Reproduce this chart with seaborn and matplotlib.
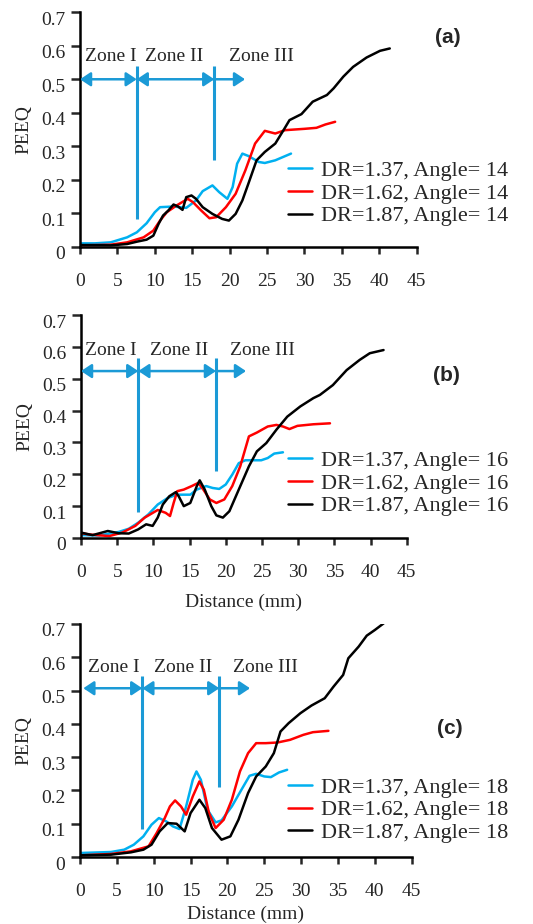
import matplotlib
matplotlib.use('Agg')
import matplotlib.pyplot as plt
import matplotlib.transforms as mtransforms
from matplotlib.patches import Rectangle
import pandas as pd
import seaborn as sns

# ---- data (distance mm, PEEQ) ----
# panel (a), angle 14
a137_x = [0, 2.0, 4.1, 6.3, 7.6, 8.9, 10.0, 10.7, 12.5, 14.2, 15.5, 16.4, 17.7, 18.6, 19.7, 20.4, 21.0, 21.7, 22.5, 23.9, 24.7, 26.1, 28.2]
a137_y = [0.010, 0.010, 0.013, 0.028, 0.043, 0.070, 0.103, 0.118, 0.120, 0.116, 0.138, 0.166, 0.183, 0.163, 0.143, 0.178, 0.248, 0.278, 0.271, 0.253, 0.250, 0.258, 0.278]
a162_x = [0, 4.1, 6.3, 8.5, 9.8, 10.7, 11.6, 12.9, 14.4, 15.1, 16.2, 17.3, 18.2, 19.5, 20.8, 22.1, 23.4, 24.7, 26.1, 27.4, 30.0, 31.6, 32.8, 34.1]
a162_y = [0.004, 0.006, 0.013, 0.028, 0.048, 0.078, 0.103, 0.123, 0.143, 0.133, 0.108, 0.085, 0.088, 0.118, 0.158, 0.228, 0.308, 0.346, 0.338, 0.348, 0.352, 0.355, 0.365, 0.373]
a187_x = [0, 4.1, 6.3, 7.6, 8.9, 9.8, 10.5, 11.1, 11.8, 12.5, 13.1, 13.7, 14.2, 14.9, 15.5, 16.4, 17.7, 19.0, 19.9, 20.8, 21.7, 22.5, 23.6, 24.7, 26.1, 27.2, 28.0, 29.6, 31.1, 33.0, 33.9, 35.2, 36.5, 38.3, 40.1, 41.4]
a187_y = [0.005, 0.004, 0.008, 0.015, 0.021, 0.033, 0.068, 0.093, 0.108, 0.126, 0.120, 0.110, 0.148, 0.153, 0.143, 0.118, 0.098, 0.083, 0.078, 0.098, 0.138, 0.188, 0.258, 0.283, 0.308, 0.348, 0.378, 0.396, 0.433, 0.453, 0.473, 0.508, 0.537, 0.565, 0.585, 0.592]

# panel (b), angle 16
b137_x = [0, 2.5, 5.2, 6.6, 7.9, 9.3, 10.6, 12.0, 13.3, 15.1, 16.0, 17.3, 18.2, 19.1, 20.0, 20.9, 21.8, 22.7, 24.9, 25.8, 26.7, 27.9]
b137_y = [0.009, 0.008, 0.019, 0.029, 0.048, 0.074, 0.105, 0.126, 0.136, 0.136, 0.152, 0.163, 0.157, 0.154, 0.168, 0.199, 0.235, 0.244, 0.244, 0.251, 0.265, 0.269]
b162_x = [0, 1.2, 3.9, 5.7, 7.5, 8.8, 10.6, 11.7, 12.3, 12.8, 13.3, 14.2, 15.3, 16.2, 16.9, 17.8, 18.7, 19.8, 20.9, 22.0, 23.2, 24.3, 25.8, 27.0, 27.9, 28.8, 29.9, 32.1, 34.4]
b162_y = [0.015, 0.011, 0.006, 0.017, 0.038, 0.064, 0.088, 0.079, 0.069, 0.110, 0.147, 0.152, 0.163, 0.173, 0.152, 0.121, 0.110, 0.121, 0.163, 0.225, 0.319, 0.331, 0.350, 0.355, 0.350, 0.342, 0.352, 0.357, 0.360]
b187_x = [0, 1.6, 3.7, 5.2, 6.6, 7.9, 9.0, 9.9, 10.6, 11.3, 12.2, 13.1, 13.5, 14.2, 15.1, 16.0, 16.4, 17.1, 18.0, 18.7, 19.6, 20.5, 21.8, 23.2, 24.3, 25.6, 27.0, 28.5, 30.3, 32.1, 33.0, 34.8, 36.7, 38.5, 39.9, 41.8]
b187_y = [0.017, 0.009, 0.022, 0.015, 0.014, 0.027, 0.043, 0.038, 0.064, 0.105, 0.131, 0.144, 0.131, 0.100, 0.110, 0.163, 0.181, 0.152, 0.100, 0.071, 0.064, 0.084, 0.152, 0.225, 0.272, 0.298, 0.340, 0.381, 0.413, 0.439, 0.449, 0.480, 0.527, 0.559, 0.580, 0.590]

# panel (c), angle 18
c137_x = [0, 4.2, 6.0, 7.3, 8.6, 9.7, 10.7, 11.7, 12.6, 13.5, 14.4, 15.3, 15.8, 16.4, 17.3, 18.4, 19.2, 20.6, 21.9, 23.0, 23.9, 25.0, 25.9, 27.0, 28.1]
c137_y = [0.012, 0.015, 0.022, 0.037, 0.062, 0.097, 0.117, 0.107, 0.092, 0.084, 0.152, 0.232, 0.257, 0.232, 0.142, 0.104, 0.110, 0.152, 0.202, 0.244, 0.250, 0.242, 0.240, 0.254, 0.262]
c162_x = [0, 4.2, 6.9, 9.3, 10.4, 11.5, 12.2, 12.9, 13.7, 14.4, 15.3, 16.2, 16.8, 17.5, 18.4, 19.5, 20.6, 21.7, 22.8, 23.9, 25.2, 26.8, 28.5, 30.3, 31.6, 33.7]
c162_y = [0.005, 0.009, 0.017, 0.032, 0.072, 0.117, 0.152, 0.170, 0.152, 0.127, 0.182, 0.227, 0.202, 0.132, 0.087, 0.112, 0.172, 0.257, 0.312, 0.342, 0.342, 0.344, 0.352, 0.367, 0.375, 0.379]
c187_x = [0, 4.2, 6.9, 8.6, 9.7, 10.8, 11.9, 13.1, 14.2, 15.0, 16.2, 17.0, 17.9, 19.2, 20.4, 21.5, 22.8, 23.9, 25.2, 26.3, 27.2, 28.3, 29.9, 31.4, 33.2, 34.4, 35.7, 36.4, 37.8, 38.9, 40.0, 41.2]
c187_y = [0.005, 0.007, 0.014, 0.022, 0.037, 0.077, 0.102, 0.100, 0.077, 0.132, 0.172, 0.147, 0.087, 0.052, 0.062, 0.112, 0.192, 0.242, 0.272, 0.312, 0.377, 0.402, 0.432, 0.455, 0.477, 0.512, 0.547, 0.597, 0.632, 0.665, 0.682, 0.702]

dr_values = ['1.37', '1.62', '1.87']
angles = [14, 16, 18]
panel_tags = ['(a)', '(b)', '(c)']
x_ticks = [0, 5, 10, 15, 20, 25, 30, 35, 40, 45]
y_ticks = [0, 0.1, 0.2, 0.3, 0.4, 0.5, 0.6, 0.7]
y_tick_labels = ['0', '0.1', '0.2', '0.3', '0.4', '0.5', '0.6', '0.7']
zone_names = ['Zone I', 'Zone II', 'Zone III']

panels = [
    [(a137_x, a137_y), (a162_x, a162_y), (a187_x, a187_y)],
    [(b137_x, b137_y), (b162_x, b162_y), (b187_x, b187_y)],
    [(c137_x, c137_y), (c162_x, c162_y), (c187_x, c187_y)],
]

# layout (figure pixels) and zone annotation placement per panel
W, H = 533, 924
ax_px = [(80, 12.3, 336.7, 246.7), (81, 315, 325.7, 538), (80, 624, 331.7, 857)]
xlabel_pad = [9, 9, 4]
zones = [
    dict(ay=0.500, x0=0.0, l1=7.58, t1=0.54, b1=0.082, l2=17.95, b2=0.259, end=22.06, ly=0.567, lx=[4.1, 12.6, 24.2]),
    dict(ay=0.524, x0=0.0, l1=7.92, t1=0.566, b1=0.083, l2=18.65, b2=0.211, end=22.8, ly=0.59, lx=[4.07, 13.6, 25.1]),
    dict(ay=0.507, x0=0.45, l1=8.45, t1=0.545, b1=0.084, l2=18.9, b2=0.209, end=23.07, ly=0.57, lx=[4.52, 13.95, 25.2]),
]
tag_pos = [(49.2, 0.626), (50.5, 0.51), (50.2, 0.387)]
legend_mid_px = [(288, 193.3), (288, 483.3), (288, 810)]

sns.set_style('white')
plt.rcParams['font.family'] = ['Liberation Serif', 'DejaVu Serif']

line_colors = ['#00B0F0', '#FF0000', '#000000']
zone_color = '#1B9AD6'

fig = plt.figure(figsize=(W / 100, H / 100), dpi=100)

for i, series in enumerate(panels):
    left, top, width, bottom = ax_px[i]
    ax = fig.add_axes([left / W, 1 - bottom / H, width / W, (bottom - top) / H])
    rows = []
    for dr, (xs, ys) in zip(dr_values, series):
        label = f'DR={dr}, Angle= {angles[i]}'
        for xv, yv in zip(xs, ys):
            rows.append({'Distance': xv, 'PEEQ': yv, 'series': label})
    df = pd.DataFrame(rows)
    sns.lineplot(data=df, x='Distance', y='PEEQ', hue='series', palette=line_colors,
                 sort=False, estimator=None, linewidth=1.8, ax=ax)

    ax.set_xlim(0, 45)
    ax.set_ylim(0, 0.7)
    ax.set_xticks(x_ticks)
    ax.set_xticklabels([str(t) for t in x_ticks])
    ax.set_yticks(y_ticks)
    ax.set_yticklabels(y_tick_labels)
    for s in ['top', 'right']:
        ax.spines[s].set_visible(False)
    for s in ['left', 'bottom']:
        ax.spines[s].set_linewidth(1.8)
        ax.spines[s].set_color('black')
    ax.tick_params(axis='x', direction='out', length=5, width=1.8, pad=14, labelsize=14, bottom=True)
    ax.tick_params(axis='y', direction='out', length=6.5, width=1.8, pad=4, labelsize=14, left=True)
    offset = mtransforms.ScaledTranslation(0, -0.06, fig.dpi_scale_trans)
    for lab in ax.get_yticklabels():
        lab.set_transform(lab.get_transform() + offset)
    ax.set_ylabel('PEEQ', fontsize=14, labelpad=6)
    ax.set_xlabel('Distance (mm)', fontsize=14, labelpad=xlabel_pad[i])

    # zone markers
    z = zones[i]
    ax.plot([z['l1'], z['l1']], [z['b1'], z['t1']], color=zone_color, lw=2.2, solid_capstyle='butt')
    ax.plot([z['l2'], z['l2']], [z['b2'], z['t1']], color=zone_color, lw=2.2, solid_capstyle='butt')
    head = dict(color=zone_color, lw=1.8, shrinkA=0, shrinkB=0, mutation_scale=14)
    ax.annotate('', xy=(z['l1'], z['ay']), xytext=(z['x0'], z['ay']), annotation_clip=False,
                arrowprops=dict(arrowstyle='<|-|>,head_length=0.45,head_width=0.3', **head))
    ax.annotate('', xy=(z['l2'], z['ay']), xytext=(z['l1'], z['ay']),
                arrowprops=dict(arrowstyle='<|-|>,head_length=0.45,head_width=0.3', **head))
    ax.annotate('', xy=(z['end'], z['ay']), xytext=(z['l2'], z['ay']),
                arrowprops=dict(arrowstyle='-|>,head_length=0.45,head_width=0.3', **head))
    for name, lx in zip(zone_names, z['lx']):
        ax.text(lx, z['ly'], name, fontsize=14, ha='center', va='center')

    tx, ty = tag_pos[i]
    ax.text(tx, ty, panel_tags[i], fontsize=15, fontweight='bold', ha='center', va='center',
            family=['Liberation Sans', 'DejaVu Sans'], clip_on=False)

    lx_px, ly_px = legend_mid_px[i]
    ax.legend(loc='center left', bbox_to_anchor=(lx_px / W, 1 - ly_px / H),
              bbox_transform=fig.transFigure, frameon=False, fontsize=16,
              handlelength=1.1, handletextpad=0.4, labelspacing=0.1,
              borderpad=0, borderaxespad=0)

# the x-axis title of panel (a) is cut off by panel (b) in the original
fig.add_artist(Rectangle((150 / W, 1 - 320 / H), 250 / W, 21 / H, transform=fig.transFigure,
                         facecolor='white', edgecolor='none', zorder=10))

fig.savefig('out.png', dpi=100)
